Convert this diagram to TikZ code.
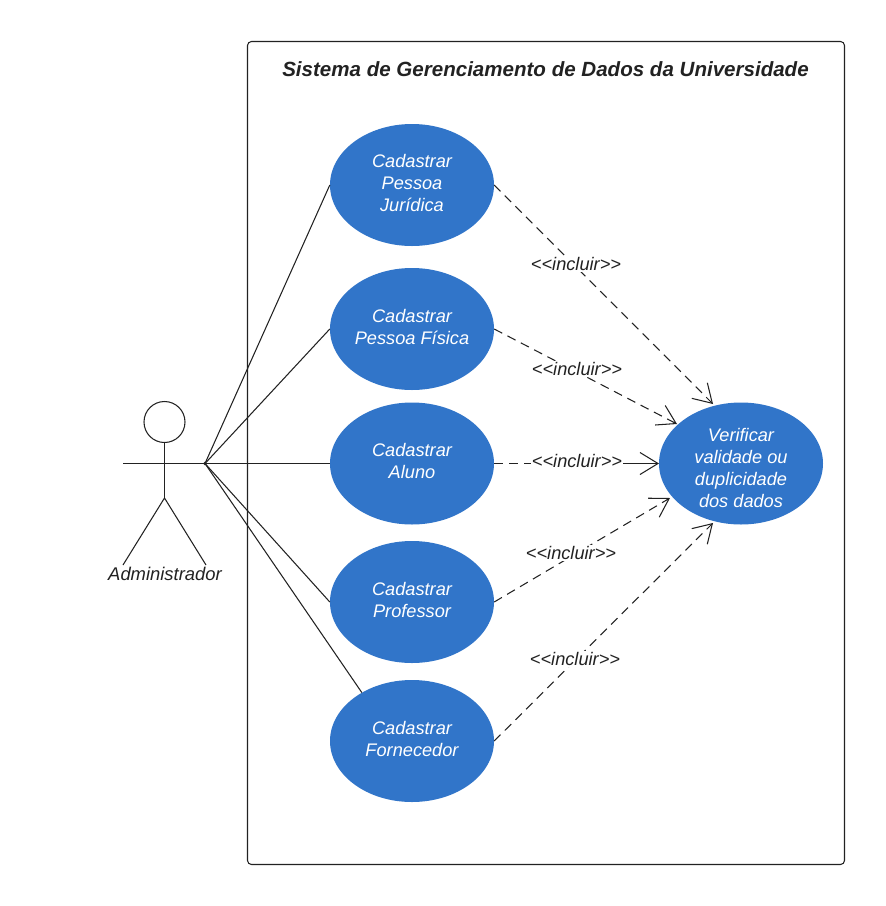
\documentclass[tikz,border=0pt]{standalone}
\usepackage{fontspec}
\setmainfont{Liberation Sans}
\usetikzlibrary{arrows.meta,shapes.geometric}
\definecolor{ucblue}{HTML}{3175C9}
\definecolor{ink}{HTML}{222222}
\begin{document}
\begin{tikzpicture}[x=1pt,y=-1pt,
  ucshape/.style={ellipse,fill=ucblue,minimum width=164pt,minimum height=122pt,inner sep=0pt},
  uctext/.style={text=white,inner sep=0pt,align=center,font=\fontsize{18.2}{22}\selectfont\itshape},
  assoc/.style={draw=ink,line width=1.05pt},
  tip/.style={-{Straight Barb[length=18pt,width=22pt,line width=1.05pt]}},
  incl/.style={draw=ink,line width=1.05pt,dash pattern=on 9pt off 6pt,tip},
  lbl/.style={fill=white,inner sep=1pt,text=ink,font=\fontsize{18.2}{20}\selectfont\itshape}]
\useasboundingbox (0,0) rectangle (886,906);
\fill[white] (0,0) rectangle (886,906);
\node[draw=ink,line width=1.05pt,rounded corners=4pt,minimum width=597pt,minimum height=823pt,inner sep=0pt] (sys) at (546,453) {};
\node[text=ink,font=\fontsize{20.55}{24}\selectfont\bfseries\itshape] (title) at (545.5,69) {Sistema de Gerenciamento de Dados da Universidade};
\node[ucshape] (pj) at (412,185) {};
\node[ucshape] (pf) at (412,329) {};
\node[ucshape] (al) at (412,463.5) {};
\node[ucshape] (pr) at (412,602) {};
\node[ucshape] (fo) at (412,741) {};
\node[ucshape] (ve) at (741,463.5) {};
\node[uctext] (pjt) at (412,183) {Cadastrar\\Pessoa\\Jurídica};
\node[uctext] (pft) at (412,327) {Cadastrar\\Pessoa Física};
\node[uctext] (alt) at (412,461) {Cadastrar\\Aluno};
\node[uctext] (prt) at (412,600) {Cadastrar\\Professor};
\node[uctext] (fot) at (412,739) {Cadastrar\\Fornecedor};
\node[uctext] (vet) at (741,468) {Verificar\\validade ou\\duplicidade\\dos dados};
% actor
\node[draw=ink,fill=white,line width=1.05pt,circle,minimum size=41pt,inner sep=0pt] (head) at (164.5,422) {};
\coordinate (hip) at (164.5,498);
\coordinate (armL) at (123,463.5);
\coordinate (hub) at (205,463.5);
\coordinate (footL) at (123,565);
\coordinate (footR) at (206,565);
\draw[assoc] (head.south) -- (hip);
\draw[assoc] (armL) -- (hub);
\draw[assoc] (footL) -- (hip) -- (footR);
\fill[ink] (hub) circle (1.8pt);
\node[text=ink,font=\fontsize{18.4}{20}\selectfont\itshape] (adm) at (165,574) {Administrador};
% associations
\draw[assoc] (hub) -- (pj.west);
\draw[assoc] (hub) -- (pf.west);
\draw[assoc] (hub) -- (al.west);
\draw[assoc] (hub) -- (pr.west);
\draw[assoc] (hub) -- (fo.136);
% includes
\coordinate (t1) at (713,404);
\coordinate (t2) at (677,424);
\coordinate (t3) at (659,463.5);
\coordinate (t4) at (670,498);
\coordinate (t5) at (713,523);
\draw[incl] (pj.east) -- (t1);
\draw[incl] (pf.east) -- (t2);
\draw[incl] (pr.east) -- (t4);
\draw[incl] (fo.east) -- (t5);
\node[lbl] (l1) at (576,264) {<{}<incluir>{}>};
\node[lbl] (l2) at (577,369) {<{}<incluir>{}>};
\node[lbl] (l3) at (577,461) {<{}<incluir>{}>};
\node[lbl] (l4) at (571,553) {<{}<incluir>{}>};
\node[lbl] (l5) at (575,659) {<{}<incluir>{}>};
\draw[draw=ink,line width=1.05pt,dash pattern=on 9pt off 6pt] (al.east) -- (l3.west|-al.east);
\draw[assoc,tip] (l3.east|-al.east) -- (t3);
\end{tikzpicture}
\end{document}
